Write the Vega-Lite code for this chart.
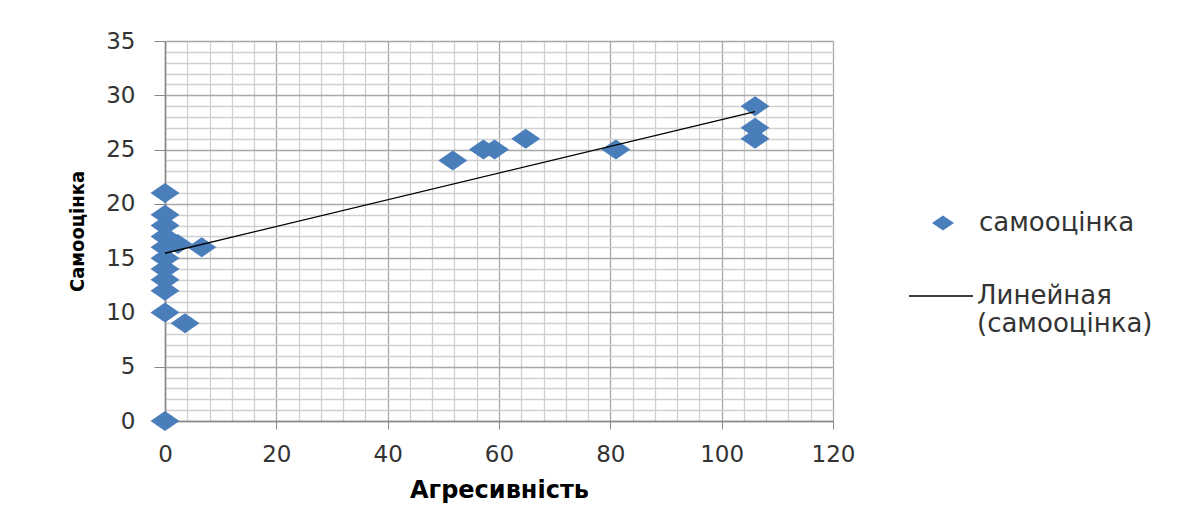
{
  "$schema": "https://vega.github.io/schema/vega-lite/v6.json",
  "width": 668,
  "height": 380,
  "autosize": {"type": "none"},
  "padding": {"left": 165, "top": 41, "right": 348, "bottom": 103},
  "background": "white",
  "config": {"view": {"stroke": null}},
  "layer": [
    {
      "data": {"values": [
        {"agr": 0, "self": 21, "series": "самооцінка"},
        {"agr": 0, "self": 19, "series": "самооцінка"},
        {"agr": 0, "self": 18, "series": "самооцінка"},
        {"agr": 0, "self": 17, "series": "самооцінка"},
        {"agr": 0, "self": 16, "series": "самооцінка"},
        {"agr": 0, "self": 15, "series": "самооцінка"},
        {"agr": 0, "self": 14, "series": "самооцінка"},
        {"agr": 0, "self": 13, "series": "самооцінка"},
        {"agr": 0, "self": 12, "series": "самооцінка"},
        {"agr": 0, "self": 10, "series": "самооцінка"},
        {"agr": 0, "self": 0, "series": "самооцінка"},
        {"agr": 2.3, "self": 16.3, "series": "самооцінка"},
        {"agr": 6.6, "self": 16, "series": "самооцінка"},
        {"agr": 3.6, "self": 9, "series": "самооцінка"},
        {"agr": 51.7, "self": 24, "series": "самооцінка"},
        {"agr": 57.2, "self": 25, "series": "самооцінка"},
        {"agr": 59.2, "self": 25, "series": "самооцінка"},
        {"agr": 64.8, "self": 26, "series": "самооцінка"},
        {"agr": 81, "self": 25, "series": "самооцінка"},
        {"agr": 106, "self": 29, "series": "самооцінка"},
        {"agr": 106, "self": 27, "series": "самооцінка"},
        {"agr": 106, "self": 26, "series": "самооцінка"}
      ]},
      "mark": {"type": "point", "shape": "M-1,0L0,-0.69L1,0L0,0.69Z", "filled": true, "size": 841, "opacity": 1, "strokeWidth": 0},
      "encoding": {
        "x": {
          "field": "agr", "type": "quantitative",
          "scale": {"domain": [0, 120], "nice": false, "zero": false},
          "axis": {
            "title": "Агресивність",
            "values": [0,4,8,12,16,20,24,28,32,36,40,44,48,52,56,60,64,68,72,76,80,84,88,92,96,100,104,108,112,116,120],
            "tickCount": 200,
            "format": "d",
            "labelExpr": "datum.value % 20 === 0 ? datum.label : ''",
            "labelFont": "DejaVu Sans", "labelFontSize": 23, "labelColor": "#333333",
            "labelPadding": 14, "labelFlush": false, "labelOverlap": false,
            "tickSize": 8, "tickColor": "#888888",
            "tickOpacity": {"condition": {"test": "datum.value % 20 === 0", "value": 1}, "value": 0},
            "grid": true,
            "gridColor": {"condition": {"test": "datum.value % 20 === 0", "value": "#a8a8a8"}, "value": "#d0d0d0"},
            "gridWidth": 1.3,
            "domainColor": "#888888", "domainWidth": 1.6,
            "titleFont": "DejaVu Sans", "titleFontWeight": "bold", "titleFontSize": 24, "titleColor": "#000000",
            "titlePadding": 12
          }
        },
        "y": {
          "field": "self", "type": "quantitative",
          "scale": {"domain": [0, 35], "nice": false, "zero": false},
          "axis": {
            "title": "Самооцінка",
            "values": [0,1,2,3,4,5,6,7,8,9,10,11,12,13,14,15,16,17,18,19,20,21,22,23,24,25,26,27,28,29,30,31,32,33,34,35],
            "tickCount": 200,
            "format": "d",
            "labelExpr": "datum.value % 5 === 0 ? datum.label : ''",
            "labelFont": "DejaVu Sans", "labelFontSize": 23, "labelColor": "#333333",
            "labelPadding": 19, "labelOverlap": false, "labelFlush": false,
            "tickSize": 11, "tickColor": "#888888",
            "tickOpacity": {"condition": {"test": "datum.value % 5 === 0", "value": 1}, "value": 0},
            "grid": true,
            "gridColor": {"condition": {"test": "datum.value % 5 === 0", "value": "#a8a8a8"}, "value": "#d0d0d0"},
            "gridWidth": 1.3,
            "domainColor": "#888888", "domainWidth": 1.6,
            "titleFont": "DejaVu Sans Condensed, Liberation Sans Narrow, Liberation Sans", "titleFontWeight": "bold", "titleFontSize": 20, "titleColor": "#000000",
            "titlePadding": 18
          }
        },
        "color": {
          "field": "series", "type": "nominal",
          "scale": {"range": ["#4a7ebb"]},
          "legend": {
            "orient": "none", "legendX": 765, "legendY": 169, "title": null, "padding": 0,
            "symbolType": "M-1,0L0,-0.69L1,0L0,0.69Z", "symbolSize": 484, "symbolOpacity": 1, "symbolStrokeWidth": 0,
            "labelFont": "DejaVu Sans", "labelFontSize": 26, "labelColor": "#333333", "labelOffset": 23, "labelLimit": 400
          }
        }
      }
    },
    {
      "data": {"values": [
        {"agr": 0, "self": 15.45, "trend": "Линейная (самооцінка)"},
        {"agr": 106, "self": 28.5, "trend": "Линейная (самооцінка)"}
      ]},
      "mark": {"type": "line", "strokeWidth": 1.3},
      "encoding": {
        "x": {"field": "agr", "type": "quantitative"},
        "y": {"field": "self", "type": "quantitative"},
        "stroke": {
          "field": "trend", "type": "nominal",
          "scale": {"range": ["#000000"]},
          "legend": {
            "orient": "none", "legendX": 743, "legendY": 222, "title": null, "padding": 0,
            "symbolType": "stroke", "symbolSize": 4096, "symbolStrokeWidth": 1.3, "symbolStrokeColor": "#000000",
            "labelExpr": "['Линейная', '(самооцінка)']",
            "labelFont": "DejaVu Sans", "labelFontSize": 26, "labelColor": "#333333", "labelOffset": 3, "labelLimit": 400
          }
        }
      }
    }
  ]
}
